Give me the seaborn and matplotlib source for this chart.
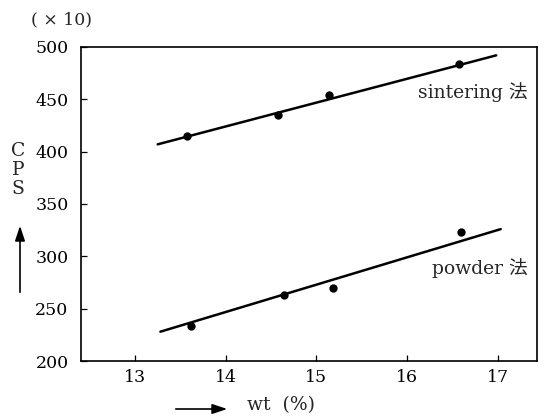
import matplotlib
matplotlib.use("Agg")
import matplotlib.pyplot as plt
import seaborn as sns
import pandas as pd

# data
sint_wt = [13.57, 14.58, 15.14, 16.57]
sint_cps = [415, 435, 454, 484]
pow_wt = [13.62, 14.64, 15.18, 16.59]
pow_cps = [233, 263, 270, 323]
# hand-drawn fitted lines (end points)
sint_fit_wt = [13.25, 16.98]
sint_fit_cps = [407, 492]
pow_fit_wt = [13.28, 17.03]
pow_fit_cps = [228, 326]
x_ticks = [13, 14, 15, 16, 17]
y_ticks = [200, 250, 300, 350, 400, 450, 500]

sns.set_style("ticks")
plt.rcParams['font.family'] = ['DejaVu Serif', 'Noto Sans CJK JP']

fig = plt.figure(figsize=(5.49, 4.17), dpi=100)
ax = fig.add_axes([81/549, 1-361/417, (537-81)/549, (361-47)/417])

pts = pd.DataFrame({
    "wt": sint_wt + pow_wt,
    "cps": sint_cps + pow_cps,
    "method": ["sintering"]*len(sint_wt) + ["powder"]*len(pow_wt),
})
fits = pd.DataFrame({
    "wt": sint_fit_wt + pow_fit_wt,
    "cps": sint_fit_cps + pow_fit_cps,
    "method": ["sintering"]*2 + ["powder"]*2,
})

sns.lineplot(data=fits, x="wt", y="cps", units="method", estimator=None,
             color="black", lw=1.8, ax=ax, legend=False)
sns.scatterplot(data=pts, x="wt", y="cps", color="black", s=36,
                edgecolor="black", linewidth=0, ax=ax, legend=False, zorder=3)

ax.set_xlim(12.405, 17.43)
ax.set_ylim(200, 500)
ax.set_xticks(x_ticks)
ax.set_yticks(y_ticks)
ax.set_xlabel("")
ax.set_ylabel("")
for s in ax.spines.values():
    s.set_linewidth(1.2)
    s.set_color("black")
    s.set_visible(True)
ax.tick_params(axis="both", direction="in", length=4.5, width=0.9,
               labelsize=12.5, colors="black")
ax.tick_params(axis="y", pad=9)
ax.tick_params(axis="x", pad=6)

ax.text(17.33, 457, "sintering 法", ha="right", va="center", fontsize=13.5)
ax.text(17.33, 289, "powder 法", ha="right", va="center", fontsize=13.5)

fig.text(31/549, 1-20/417, "( × 10)", ha="left", va="center", fontsize=12.5)
fig.text(18/549, 1-170/417, "C\nP\nS", ha="center", va="center",
         fontsize=13.5, linespacing=1.05)
fig.text(247/549, 1-405/417, "wt  (%)", ha="left", va="center", fontsize=13.5)

fig.patches.append(matplotlib.patches.FancyArrowPatch(
    (20/549, 1-295/417), (20/549, 1-223/417), transform=fig.transFigure,
    arrowstyle="-|>,head_length=6,head_width=2", color="black", lw=1.2,
    mutation_scale=1.5))
fig.patches.append(matplotlib.patches.FancyArrowPatch(
    (173/549, 1-409/417), (230/549, 1-409/417), transform=fig.transFigure,
    arrowstyle="-|>,head_length=6,head_width=2", color="black", lw=1.2,
    mutation_scale=1.5))

fig.savefig("out.png", dpi=100)
